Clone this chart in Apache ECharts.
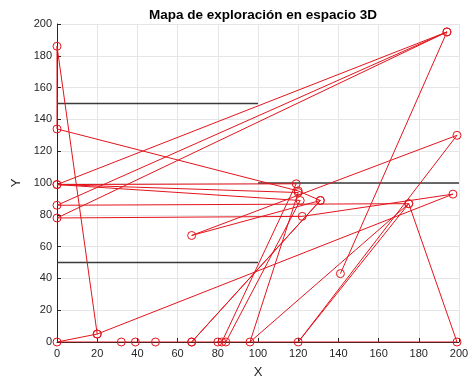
<!DOCTYPE html>
<html>
<head>
<meta charset="utf-8">
<script src="https://cdn.jsdelivr.net/npm/echarts@6/dist/echarts.min.js"></script>
<style>
html,body{margin:0;padding:0;background:#fff;}
#chart{width:472px;height:385px;}
</style>
</head>
<body>
<div id="chart"></div>
<script>
// Exploration path (x, y) in visiting order
const pathX = [141, 194, 0, 119, 82, 80, 84, 121, 0, 120, 96, 175, 0, 194, 0, 122, 197, 20, 0, 0, 120, 131, 67, 199, 120, 175, 199, 67, 131, 67, 49, 39, 32, 0, 20];
const pathY = [43, 195, 99, 99.5, 0, 0, 0, 89, 99, 94, 0, 87, 86, 195, 78, 79, 93, 5, 186, 134, 95, 89, 67, 130, 0, 87, 0, 0, 89, 0, 0, 0, 0, 0, 5];

// Wall segments (pairs of endpoints)
const wallX = [[0, 100], [0, 100], [100, 200]];
const wallY = [[150, 150], [50, 50], [100, 100]];

const xTicks = [0, 20, 40, 60, 80, 100, 120, 140, 160, 180, 200];
const yTicks = [0, 20, 40, 60, 80, 100, 120, 140, 160, 180, 200];

const red = '#e3141c';
const axisColor = '#262626';
const font = 'Liberation Sans, Arial, sans-serif';

const pathData = pathX.map((x, i) => [x, pathY[i]]);
const wallSeries = wallX.map((xs, i) => ({
  type: 'line',
  data: xs.map((x, j) => [x, wallY[i][j]]),
  showSymbol: false,
  symbol: 'none',
  lineStyle: { color: '#3a3a3a', width: 1.3 },
  silent: true,
  z: 2
}));

const chart = echarts.init(document.getElementById('chart'), null, { renderer: 'canvas' });
chart.setOption({
  animation: false,
  backgroundColor: '#fff',
  title: {
    text: 'Mapa de exploración en espacio 3D',
    left: 258,
    textAlign: 'center',
    top: 3,
    textStyle: { fontFamily: font, fontSize: 13.5, fontWeight: 'bold', color: '#000' }
  },
  grid: { left: 57, right: 13, top: 24, bottom: 43, containLabel: false },
  xAxis: {
    type: 'value', min: 0, max: 200, interval: 20,
    name: 'X', nameLocation: 'middle', nameGap: 24,
    nameTextStyle: { fontFamily: font, fontSize: 13, color: axisColor },
    axisLine: { show: true, onZero: false, lineStyle: { color: axisColor, width: 1 } },
    axisTick: { show: true, inside: true, length: 4, lineStyle: { color: axisColor } },
    axisLabel: { fontFamily: font, fontSize: 11, color: axisColor, margin: 6,
      formatter: v => xTicks.includes(v) ? String(v) : '' },
    splitLine: { show: true, lineStyle: { color: '#e5e5e5', width: 1 } }
  },
  yAxis: {
    type: 'value', min: 0, max: 200, interval: 20,
    name: 'Y', nameLocation: 'middle', nameGap: 31, nameRotate: 90,
    nameTextStyle: { fontFamily: font, fontSize: 13, color: axisColor },
    axisLine: { show: true, onZero: false, lineStyle: { color: axisColor, width: 1 } },
    axisTick: { show: true, inside: true, length: 4, lineStyle: { color: axisColor } },
    axisLabel: { fontFamily: font, fontSize: 11, color: axisColor, margin: 5,
      formatter: v => yTicks.includes(v) ? String(v) : '' },
    splitLine: { show: true, lineStyle: { color: '#e5e5e5', width: 1 } }
  },
  series: [
    ...wallSeries,
    {
      type: 'line',
      data: pathData,
      symbol: 'circle',
      symbolSize: 8,
      showAllSymbol: true,
      lineStyle: { color: red, width: 1 },
      itemStyle: { color: 'rgba(0,0,0,0)', borderColor: red, borderWidth: 1 },
      z: 3
    }
  ]
});
</script>
</body>
</html>
